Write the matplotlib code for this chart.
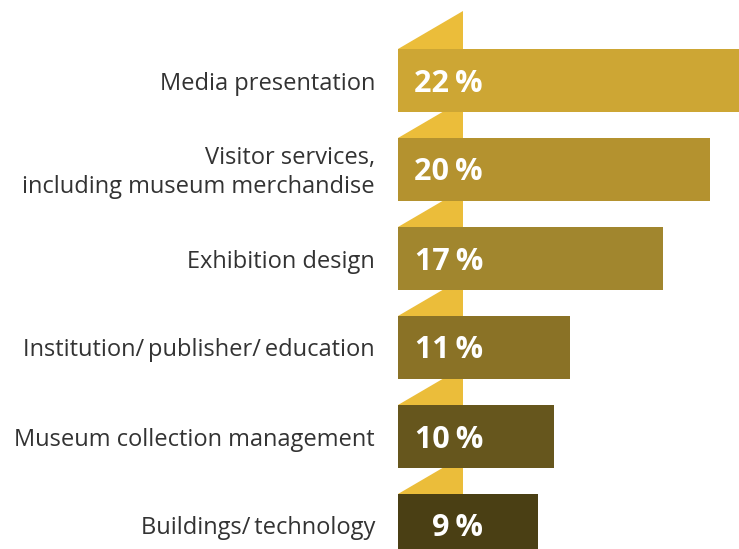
import matplotlib.pyplot as plt
from matplotlib.patches import Polygon

categories = ["Media presentation",
              "Visitor services,\nincluding museum merchandise",
              "Exhibition design",
              "Institution/\u2009publisher/\u2009education",
              "Museum collection management",
              "Buildings/\u2009technology"]
values = [22, 20, 17, 11, 10, 9]
bar_colors = ["#CDA634", "#B4922F", "#A1862E", "#8A7226", "#66561D", "#4A3F14"]
yellow = "#EBBD3A"

plt.rcParams['font.family'] = ['Open Sans', 'DejaVu Sans']

fig = plt.figure(figsize=(7.39, 5.49), dpi=100)
# axes starts where the bars start, 15.6 px per percent
ax = fig.add_axes([398 / 739, 0, 341 / 739, 1])
ax.set_xlim(0, 341 / 15.6)
ax.set_ylim((549 - 80.5) / 89, -80.5 / 89)
ax.axis('off')

h = 63 / 89
tri_w = 65 / 15.6
tri_h = 38 / 89
dy = 3 / 89  # nudge text down a bit

for i, (cat, v, c) in enumerate(zip(categories, values, bar_colors)):
    top = i - h / 2
    ax.add_patch(Polygon([(0, top), (tri_w, top - tri_h), (tri_w, top)],
                         closed=True, facecolor=yellow, edgecolor='none', zorder=1))
    ax.barh(i, v, height=h, left=0, color=c, zorder=2)
    ax.text(85 / 15.6, i + dy, f"{v}\u2009%", color='white', fontsize=22,
            fontweight='bold', ha='right', va='center', zorder=3)
    ax.text(-23 / 15.6, i + dy, cat, color='#333333', fontsize=17, ha='right',
            va='center', linespacing=1.25, clip_on=False)

fig.savefig("out.png", dpi=100)
